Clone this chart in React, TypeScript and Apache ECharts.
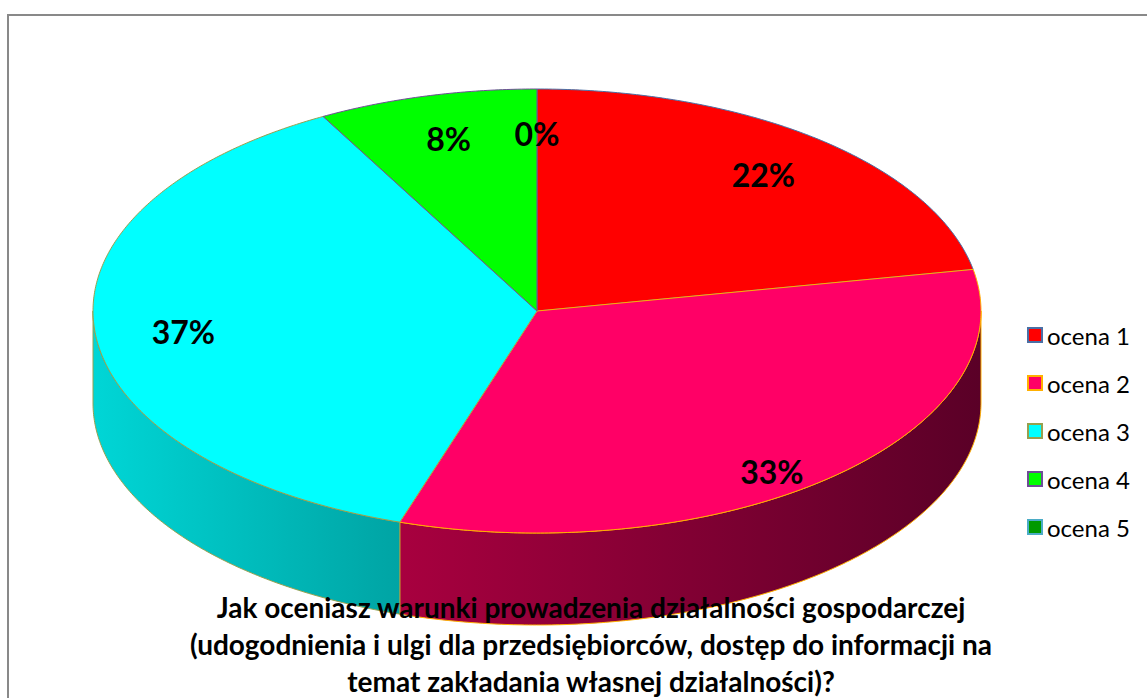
import React, { useEffect, useRef } from "react";
import * as echarts from "echarts";

const categories = ["ocena 1", "ocena 2", "ocena 3", "ocena 4", "ocena 5"];
const values = [22, 33, 37, 8, 0];
const topColors = ["#FF0000", "#FF0066", "#00FFFF", "#00FF00", "#009900"];
const borderColors = ["#4A6FA5", "#FFB000", "#98A04E", "#6E4E96", "#4BACC6"];
const sideStops: string[][] = [
  ["#C00000", "#800000"],
  ["#A8003F", "#5A0027"],
  ["#00D6D6", "#00A4A4"],
  ["#00C000", "#008000"],
  ["#007000", "#004000"],
];
const titleLines = [
  "Jak oceniasz warunki prowadzenia działalności gospodarczej",
  "(udogodnienia i ulgi dla przedsiębiorców, dostęp do informacji na",
  "temat zakładania własnej działalności)?",
];

const CX = 537;
const CY = 311;
const RX = 444;
const RY = 222;
const DEPTH = 92;

const total = values.reduce((s, v) => s + v, 0);
const starts: number[] = [];
values.reduce((acc, v, i) => {
  starts[i] = acc;
  return acc + v;
}, 0);

function pt(deg: number, dy = 0): number[] {
  const r = (deg * Math.PI) / 180;
  return [CX + RX * Math.sin(r), CY - RY * Math.cos(r) + dy];
}
function arc(a: number, b: number, dy = 0): number[][] {
  const n = Math.max(2, Math.ceil(Math.abs(b - a) / 0.5));
  const out: number[][] = [];
  for (let k = 0; k <= n; k++) out.push(pt(a + ((b - a) * k) / n, dy));
  return out;
}

export default function App() {
  const ref = useRef<HTMLDivElement>(null);
  useEffect(() => {
    if (!ref.current) return;
    const chart = echarts.init(ref.current, undefined, { renderer: "svg" });

    const sides: any = {
      type: "custom",
      name: "_sides",
      coordinateSystem: "none",
      silent: true,
      z: 1,
      data: values,
      renderItem: (params: any, api: any) => {
        const i = params.dataIndex;
        const v = api.value(0);
        const a0 = (starts[i] / total) * 360;
        const a1 = ((starts[i] + v) / total) * 360;
        const a = Math.max(a0, 90);
        const b = Math.min(a1, 270);
        if (!(b > a)) return null;
        const topArc = arc(a, b, 0);
        const botArc = arc(b, a, DEPTH);
        const pts = topArc.concat(botArc);
        const xs = pts.map((p) => p[0]);
        const x0 = Math.min(...xs);
        const x1 = Math.max(...xs);
        return {
          type: "polygon",
          shape: { points: pts },
          style: {
            fill: new echarts.graphic.LinearGradient(
              x0,
              0,
              x1,
              0,
              [
                { offset: 0, color: sideStops[i][0] },
                { offset: 1, color: sideStops[i][1] },
              ],
              true
            ),
            stroke: borderColors[i],
            lineWidth: 1,
          },
        };
      },
    };

    const tops: any[] = categories.map((name, i) => ({
      type: "custom",
      name,
      coordinateSystem: "none",
      silent: true,
      z: 2,
      itemStyle: { color: topColors[i], borderColor: borderColors[i] },
      data: [values[i]],
      renderItem: (_params: any, api: any) => {
        const v = api.value(0);
        if (!(v > 0)) return null;
        const a0 = (starts[i] / total) * 360;
        const a1 = ((starts[i] + v) / total) * 360;
        const pts = [[CX, CY]].concat(arc(a0, a1, 0));
        return {
          type: "polygon",
          shape: { points: pts },
          style: { fill: topColors[i], stroke: borderColors[i], lineWidth: 1 },
        };
      },
    }));

    const labels: any = {
      type: "custom",
      name: "_labels",
      coordinateSystem: "none",
      silent: true,
      z: 5,
      data: values,
      renderItem: (params: any, api: any) => {
        const i = params.dataIndex;
        const v = api.value(0);
        const mid = ((starts[i] + v / 2) / total) * 360;
        const r = (mid * Math.PI) / 180;
        const c = Math.cos(r);
        const x = CX + 0.8 * RX * Math.sin(r);
        const y = CY - 0.8 * RY * c + (c < 0 ? -c * DEPTH * 0.4 : 0);
        return {
          type: "text",
          x,
          y,
          style: {
            text: Math.round((v / total) * 100) + "%",
            font: "bold 32px Lato",
            fill: "#000",
            align: "center",
            verticalAlign: "middle",
            textAlign: "center",
            textVerticalAlign: "middle",
          },
        };
      },
    };

    chart.setOption({
      animation: false,
      backgroundColor: "#ffffff",
      legend: {
        orient: "vertical",
        left: 1027,
        top: 323,
        padding: 0,
        itemWidth: 14,
        itemHeight: 14,
        itemGap: 24,
        icon: "rect",
        selectedMode: false,
        textStyle: { fontSize: 24, fontFamily: "Lato", color: "#000" },
        data: categories.map((name, i) => ({
          name,
          icon: "rect",
          itemStyle: { color: topColors[i], borderColor: borderColors[i], borderWidth: 2 },
        })),
      },
      graphic: [
        {
          type: "rect",
          z: -10,
          silent: true,
          shape: { x: 8, y: 15, width: 1400, height: 1000 },
          style: { fill: "#ffffff", stroke: "#898989", lineWidth: 2 },
        },
        {
          type: "text",
          z: 100,
          x: 591,
          y: 644,
          silent: true,
          style: {
            text: titleLines.join("\n"),
            font: "bold 28px Lato",
            fill: "#000",
            lineHeight: 37,
            align: "center",
            verticalAlign: "middle",
            textAlign: "center",
            textVerticalAlign: "middle",
          },
        },
      ],
      series: [sides, ...tops, labels],
    });
    return () => chart.dispose();
  }, []);
  return (
    <div
      ref={ref}
      style={{ position: "fixed", left: 0, top: 0, width: 1147, height: 698 }}
    />
  );
}
